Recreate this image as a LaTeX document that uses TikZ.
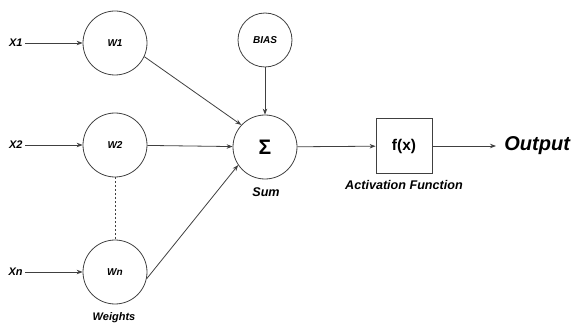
\documentclass[tikz,border=0pt]{standalone}
\usepackage{fontspec}
\setmainfont{Liberation Sans}
\usetikzlibrary{arrows.meta}
\begin{document}
\begin{tikzpicture}[x=1pt,y=-1pt,
  line width=0.8pt, draw=black!75,
  neuron/.style={circle, draw=black!75, minimum size=64pt, inner sep=0pt},
  biasnode/.style={circle, draw=black!75, minimum size=54pt, inner sep=0pt},
  funcbox/.style={rectangle, draw=black!75, minimum width=56pt, minimum height=55pt, inner sep=0pt},
  lbl/.style={font=\fontsize{11}{13}\selectfont\bfseries\itshape, inner sep=2pt},
  biglbl/.style={font=\fontsize{12.6}{14}\selectfont\bfseries\itshape, inner sep=2pt},
  wlbl/.style={font=\fontsize{10}{12}\selectfont\bfseries\itshape},
  conn/.style={draw=black!75, line width=0.8pt, -{Stealth[length=6pt,width=4.5pt]}}
]
\useasboundingbox (0,0) rectangle (574,326);

% weight neurons
\node[neuron] (w1) at (115,43) {};
\node[wlbl] at (w1) {W1};
\node[neuron] (w2) at (115,145) {};
\node[wlbl] at (w2) {W2};
\node[neuron] (wn) at (115,272) {};
\node[wlbl] at (wn) {Wn};
\node[lbl] (wts) at (114,318) {Weights};

% inputs
\node[lbl, anchor=east] (x1) at (25,43) {X1};
\node[lbl, anchor=east] (x2) at (25,145) {X2};
\node[lbl, anchor=east] (xn) at (25,272) {Xn};
\draw[conn] (x1) -- (w1);
\draw[conn] (x2) -- (w2);
\draw[conn] (xn) -- (wn);

% elided neurons
\draw[dashed, dash pattern=on 2pt off 2pt, line width=0.7pt] (w2) -- (wn);

% bias and summation
\node[biasnode] (bias) at (265,40) {};
\node[wlbl] at (bias) {BIAS};
\node[neuron] (sum) at (265,147) {};
\node[font=\fontsize{21}{23}\selectfont\bfseries] at (sum) {Σ};
\node[biglbl] (sumlbl) at (266,192) {Sum};

\draw[conn] (w1.-25) -- (sum.137);
\draw[conn] (w2) -- (sum);
\draw[conn] (wn.-12) -- (sum.214);
\draw[conn] (bias) -- (sum);

% activation
\node[funcbox] (fx) at (404,146) {};
\node[font=\fontsize{15.5}{17}\selectfont\bfseries] at (fx) {f(x)};
\node[biglbl] (actlbl) at (404,185) {Activation Function};
\draw[conn] (sum) -- (fx);

% output
\node[font=\fontsize{20}{22}\selectfont\bfseries\itshape, anchor=west, inner sep=0pt] (out) at (504,146) {Output};
\draw[conn] (fx) -- ([xshift=-8pt]out.west);
\end{tikzpicture}
\end{document}
